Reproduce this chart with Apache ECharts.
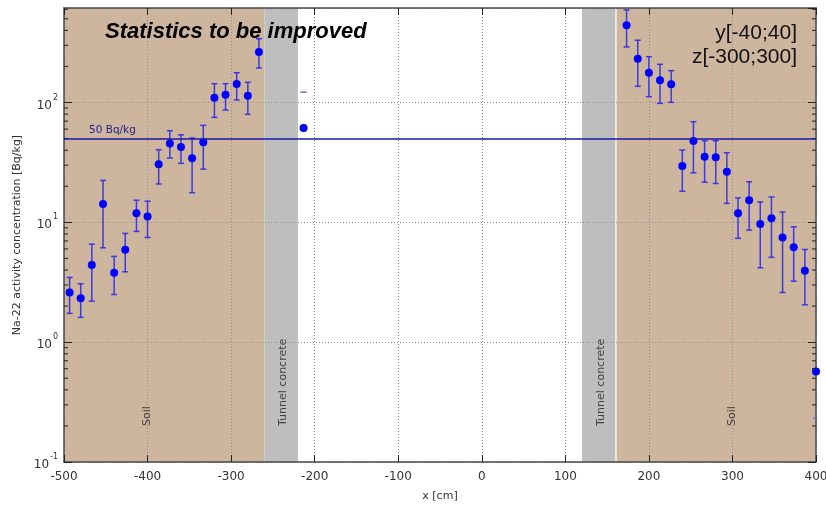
<!DOCTYPE html>
<html><head><meta charset="utf-8">
<script src="https://cdn.jsdelivr.net/npm/echarts@6/dist/echarts.min.js"></script>
<style>html,body{margin:0;padding:0;background:#fff}#c{width:826px;height:505px}</style>
</head><body><div id="c"></div>
<script>
// ---- data ----
const xPositions = [-493.3, -480, -466.7, -453.3, -440, -426.7, -413.3, -400, -386.7, -373.3, -360, -346.7, -333.3, -320, -306.7, -293.3, -280, -266.7,
  -213.3,
  173.3, 186.7, 200, 213.3, 226.7, 240, 253.3, 266.7, 280, 293.3, 306.7, 320, 333.3, 346.7, 360, 373.3, 386.7, 400];
const activity = [2.60, 2.33, 4.40, 14.2, 3.79, 5.90, 11.9, 11.2, 30.5, 45.6, 42.5, 34.2, 46.5, 109.7, 116, 142.7, 114, 264,
  61.2,
  441, 232, 177.4, 153.2, 141.9, 29.5, 47.7, 35.3, 34.9, 26.4, 11.9, 15.3, 9.67, 10.8, 7.48, 6.21, 3.94, 0.569];
const errLow = [1.74, 1.61, 2.20, 6.13, 2.50, 3.87, 8.40, 7.48, 20.9, 34.4, 31.1, 17.7, 27.8, 75.2, 86.6, 105, 79.7, 194,
  null,
  291, 136.5, 111.9, 98.5, 100.4, 18.2, 25.9, 21.6, 21.1, 14.4, 7.35, 8.61, 4.18, 5.10, 2.60, 3.23, 2.05, null];
const errHigh = [3.47, 3.07, 6.58, 22.4, 5.2, 8.09, 15.3, 15.0, 40.4, 58.2, 53.8, 50.6, 64.5, 143.6, 143.6, 177.4, 147.5, 341,
  null,
  592, 331, 241.4, 208.4, 184.4, 40.1, 69.2, 48, 48, 38.1, 16.0, 21.8, 14.8, 16.3, 12.2, 9.18, 5.94, null];
// lone error-bar caps without a drawn bar
const capOnlyX = [-213.3, 400];
const capOnlyValue = [122, 0.233];
// material bands along x
const soilBands = [[-500, -260], [160, 400]];
const concreteBands = [[-260, -220], [120, 160]];
const bandEdgeX = [160];
const bandLabels = ['Soil', 'Tunnel concrete', 'Tunnel concrete', 'Soil'];
const bandLabelX = [-400, -238, 143, 300];
const bandLabelY = 0.2;
const referenceLevel = 50;
const referenceLabel = '50 Bq/kg';
const xMin = -500, xMax = 400, xStep = 100;
const yMin = 0.1, yMax = 615;
const titleText = 'Statistics to be improved';
const cutTexts = ['y[-40;40]', 'z[-300;300]'];

// ---- chart ----
const FONT = 'DejaVu Sans';
const chart = echarts.init(document.getElementById('c'));
const axisLineStyle = { color: '#4a4a4a', width: 1.5 };
const gridLine = { show: true, lineStyle: { color: '#8e8e8e', type: [1, 2], width: 1 } };

const barData = [];
xPositions.forEach((x, i) => { if (errLow[i] != null && errHigh[i] != null) barData.push([x, errLow[i], errHigh[i]]); });
const pointData = xPositions.map((x, i) => [x, activity[i]]);
const capData = capOnlyX.map((x, i) => [x, capOnlyValue[i]]);
const minorVals = [];
for (let k = -1; k <= 2; k++) for (let m = 2; m <= 9; m++) { const v = m * Math.pow(10, k); if (v < yMax) minorVals.push([xMin, v]); }

const markAreas = [];
soilBands.forEach(b => markAreas.push([{ xAxis: b[0], itemStyle: { color: '#cdb59e' } }, { xAxis: b[1] }]));
concreteBands.forEach(b => markAreas.push([{ xAxis: b[0], itemStyle: { color: '#bebebe' } }, { xAxis: b[1] }]));

function supLabel(v) { const e = Math.round(Math.log10(v)); return '{b|10}{s|' + e + '}'; }
const barStyle = { stroke: '#2e2ee6', lineWidth: 1.5, opacity: 0.9 };

const option = {
  animation: false,
  grid: { left: 64, right: 10, top: 8, bottom: 43, outerBoundsMode: 'none', containLabel: false },
  xAxis: [
    { type: 'value', min: xMin, max: xMax, interval: xStep, position: 'bottom', z: 1,
      axisLine: { show: true, onZero: false, lineStyle: axisLineStyle },
      axisTick: { inside: true, length: 7, lineStyle: { color: '#222' } },
      axisLabel: { fontFamily: FONT, fontSize: 12, color: '#333', margin: 9 },
      splitLine: gridLine,
      name: 'x [cm]', nameLocation: 'middle', nameGap: 29,
      nameTextStyle: { fontFamily: FONT, fontSize: 11, color: '#333' } },
    { type: 'value', min: xMin, max: xMax, interval: xStep, position: 'top', z: 1,
      axisLine: { show: true, onZero: false, lineStyle: axisLineStyle },
      axisTick: { inside: true, length: 7, lineStyle: { color: '#222' } },
      axisLabel: { show: false }, splitLine: { show: false } }
  ],
  yAxis: [
    { type: 'log', logBase: 10, min: yMin, max: yMax, position: 'left', z: 1,
      axisLine: { show: true, onZero: false, lineStyle: axisLineStyle },
      axisTick: { inside: true, length: 8, lineStyle: { color: '#222' } },
      axisLabel: { formatter: supLabel, showMaxLabel: false, margin: 6, color: '#333',
        rich: { b: { fontFamily: FONT, fontSize: 12, color: '#333', lineHeight: 18, verticalAlign: 'bottom' },
                s: { fontFamily: FONT, fontSize: 8, color: '#333', lineHeight: 18, verticalAlign: 'top', padding: [0, 0, 7, 1] } } },
      splitLine: gridLine,
      name: 'Na-22 activity concentration [Bq/kg]', nameLocation: 'middle', nameGap: 36, nameRotate: 90,
      nameTextStyle: { fontFamily: FONT, fontSize: 11, color: '#333' } },
    { type: 'log', logBase: 10, min: yMin, max: yMax, position: 'right', z: 1,
      axisLine: { show: true, onZero: false, lineStyle: axisLineStyle },
      axisTick: { inside: true, length: 8, lineStyle: { color: '#222' } },
      axisLabel: { show: false }, splitLine: { show: false } }
  ],
  series: [
    { type: 'line', data: [], z: -2, silent: true,
      markArea: { silent: true, z: -2, data: markAreas },
      markLine: { silent: true, z: -1, symbol: 'none', label: { show: false },
        lineStyle: { color: '#f4f0ea', width: 1.5, type: 'solid' },
        data: bandEdgeX.map(x => ({ xAxis: x })) } },
    { type: 'custom', coordinateSystem: 'cartesian2d', data: minorVals, z: 4, silent: true,
      encode: { x: 0, y: 1 },
      renderItem(params, api) {
        const p = api.coord([api.value(0), api.value(1)]);
        const cs = params.coordSys;
        const st = { stroke: '#222', lineWidth: 1 };
        return { type: 'group', children: [
          { type: 'line', shape: { x1: cs.x, y1: p[1], x2: cs.x + 4, y2: p[1] }, style: st },
          { type: 'line', shape: { x1: cs.x + cs.width, y1: p[1], x2: cs.x + cs.width - 4, y2: p[1] }, style: st }
        ] };
      } },
    { type: 'custom', coordinateSystem: 'cartesian2d', data: barData, z: 2, clip: true,
      encode: { x: 0, y: [1, 2] },
      renderItem(params, api) {
        const x = api.value(0);
        const a = api.coord([x, api.value(1)]), b = api.coord([x, api.value(2)]);
        const w = 3;
        return { type: 'group', children: [
          { type: 'line', shape: { x1: a[0], y1: a[1], x2: b[0], y2: b[1] }, style: barStyle },
          { type: 'line', shape: { x1: a[0] - w, y1: a[1], x2: a[0] + w, y2: a[1] }, style: barStyle },
          { type: 'line', shape: { x1: b[0] - w, y1: b[1], x2: b[0] + w, y2: b[1] }, style: barStyle }
        ] };
      } },
    { type: 'custom', coordinateSystem: 'cartesian2d', data: capData, z: 2, clip: true,
      encode: { x: 0, y: 1 },
      renderItem(params, api) {
        const p = api.coord([api.value(0), api.value(1)]);
        return { type: 'line', shape: { x1: p[0] - 3, y1: p[1], x2: p[0] + 3, y2: p[1] },
          style: { stroke: '#6a6af0', lineWidth: 1.5 } };
      } },
    { type: 'scatter', data: pointData, symbol: 'circle', symbolSize: 8, z: 3, clip: true,
      itemStyle: { color: '#0000ff', opacity: 1 },
      markLine: { silent: true, symbol: 'none', animation: false,
        lineStyle: { color: '#1a1aa6', width: 1.5, type: 'solid' },
        label: { show: true, position: 'insideStartTop', distance: [25, 3], formatter: referenceLabel,
          fontFamily: FONT, fontSize: 10.5, color: '#23238c' },
        data: [{ yAxis: referenceLevel }] } },
    { type: 'scatter', symbolSize: 0, z: 5, silent: true,
      data: bandLabelX.map((x, i) => ({ value: [x, bandLabelY], name: bandLabels[i] })),
      label: { show: true, formatter: '{b}', position: 'inside', rotate: 90, align: 'left', verticalAlign: 'middle',
        fontFamily: FONT, fontSize: 11, color: '#222' } }
  ],
  graphic: [
    { type: 'text', left: 105, top: 21, z: 10,
      style: { text: titleText, font: 'italic bold 22px "Liberation Sans", Arial, sans-serif', fill: '#000' } },
    { type: 'text', right: 29, top: 23, z: 10,
      style: { text: cutTexts[0], font: '21px "Liberation Sans", Arial, sans-serif', fill: '#111', align: 'right' } },
    { type: 'text', right: 29, top: 47, z: 10,
      style: { text: cutTexts[1], font: '21px "Liberation Sans", Arial, sans-serif', fill: '#111', align: 'right' } }
  ]
};
chart.setOption(option);
</script>
</body></html>
